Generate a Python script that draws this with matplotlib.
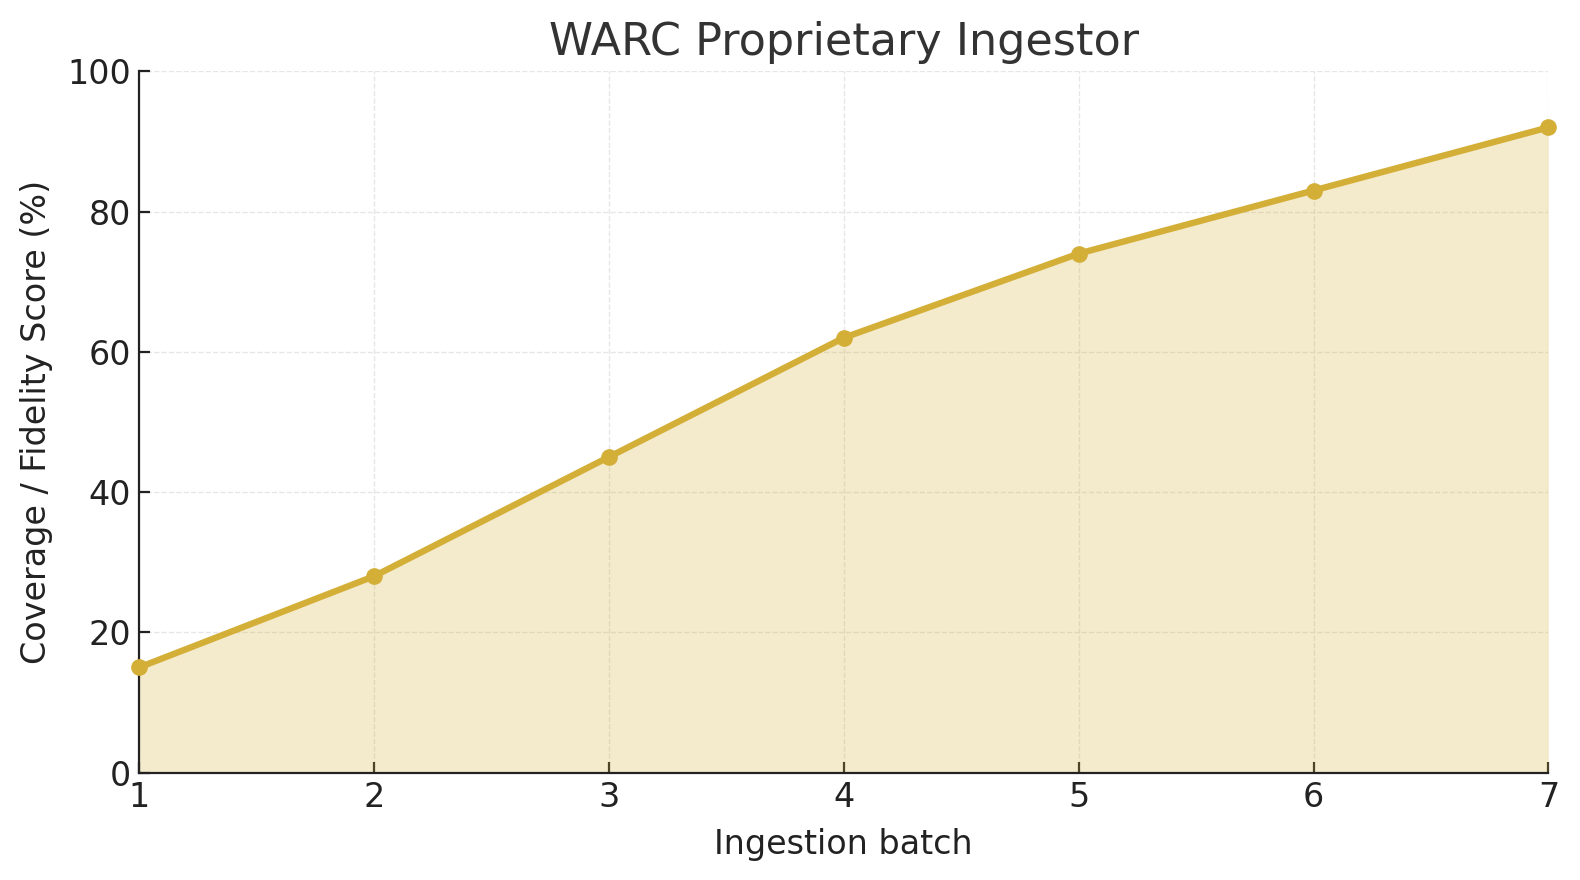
import matplotlib
matplotlib.use('Agg')
import matplotlib.pyplot as plt

batches = [1, 2, 3, 4, 5, 6, 7]
scores = [15, 28, 45, 62, 74, 83, 92]
y_ticks = [0, 20, 40, 60, 80, 100]

line_color = '#D4AF37'

fig = plt.figure(figsize=(15.8, 8.8), dpi=100)
ax = fig.add_axes([0.088, 0.122, 0.892, 0.797])

ax.fill_between(batches, scores, 0, color=line_color, alpha=0.25, linewidth=0)
ax.plot(batches, scores, color=line_color, linewidth=4.6, marker='o', markersize=11, clip_on=False, zorder=3)

ax.set_xlim(1, 7)
ax.set_ylim(0, 100)
ax.set_xticks(batches)
ax.set_yticks(y_ticks)
ax.grid(color='#e6e6e6', linestyle='--', linewidth=1)
ax.set_axisbelow(True)

for s in ['top', 'right']:
    ax.spines[s].set_visible(False)
for s in ['left', 'bottom']:
    ax.spines[s].set_linewidth(1.6)
    ax.spines[s].set_color('#222222')

ax.tick_params(direction='in', length=8, width=1.6, labelsize=24, colors='#222222', pad=6)
ax.set_title('WARC Proprietary Ingestor', fontsize=32, color='#333333', pad=12)
ax.set_xlabel('Ingestion batch', fontsize=24, color='#222222', labelpad=10)
ax.set_ylabel('Coverage / Fidelity Score (%)', fontsize=24, color='#222222', labelpad=10)

fig.savefig('out.png', dpi=100)
